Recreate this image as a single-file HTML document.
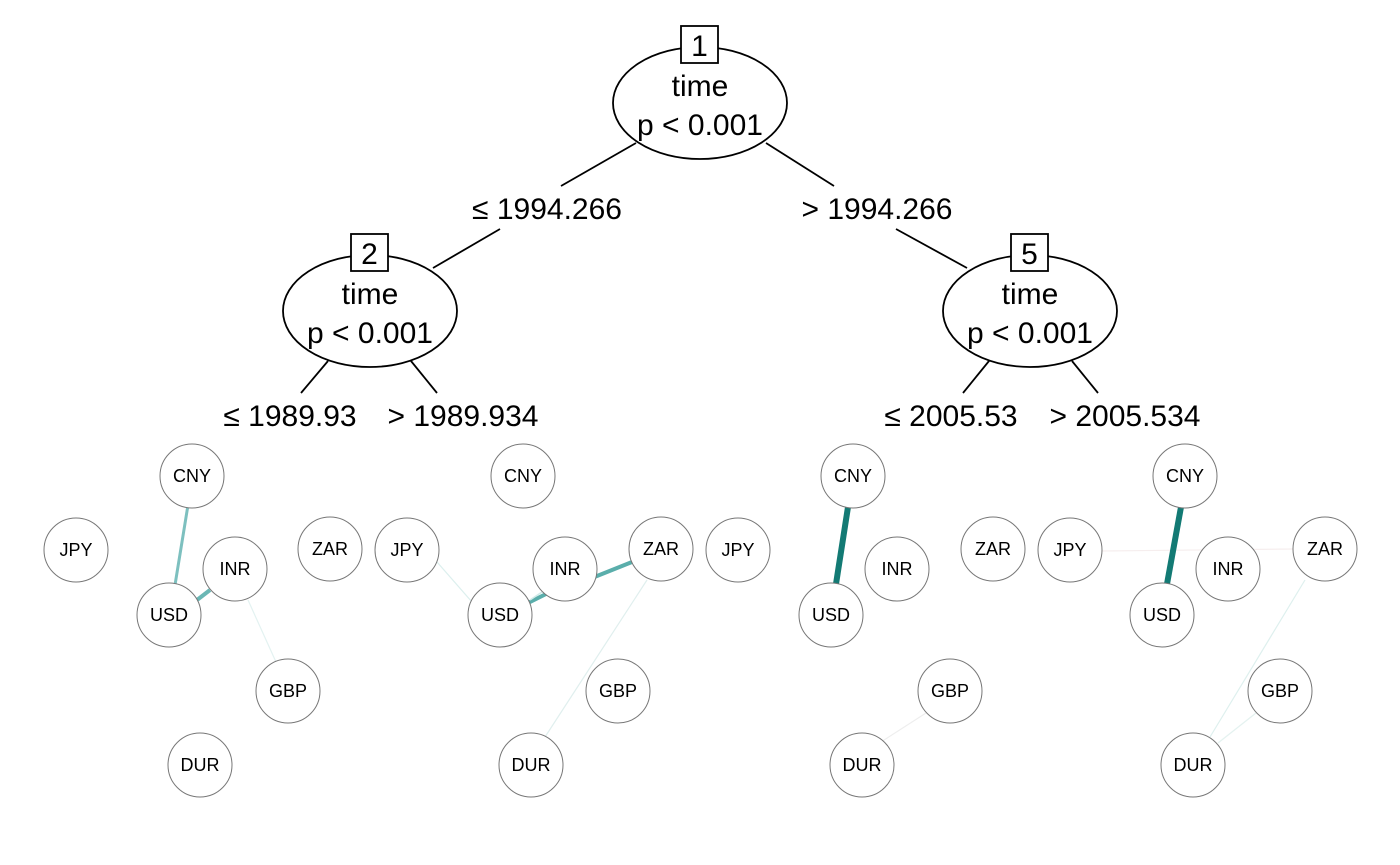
<!DOCTYPE html>
<html><head><meta charset="utf-8"><style>
html,body{margin:0;padding:0;background:#fff;}
svg{display:block;font-family:"Liberation Sans",Arial,sans-serif;}
.t{font-size:30px;text-anchor:middle;fill:#000;}
.n{font-size:18px;text-anchor:middle;fill:#000;}
circle{fill:#fff;stroke:#777;stroke-width:1;}
</style></head><body>
<svg width="1400" height="865" viewBox="0 0 1400 865">
<g stroke="#000" stroke-width="1.8" fill="none">
<line x1="636" y1="143" x2="561" y2="186"/>
<line x1="500" y1="229" x2="433" y2="268"/>
<line x1="766" y1="143" x2="834" y2="186"/>
<line x1="896" y1="229" x2="967" y2="268"/>
<line x1="328" y1="361" x2="301" y2="393"/>
<line x1="411" y1="361" x2="437" y2="393"/>
<line x1="989" y1="361" x2="963" y2="393"/>
<line x1="1072" y1="361" x2="1098" y2="393"/>
<ellipse cx="700" cy="103" rx="87" ry="56" fill="#fff"/>
<ellipse cx="370" cy="311" rx="87" ry="56" fill="#fff"/>
<ellipse cx="1030" cy="311" rx="87" ry="56" fill="#fff"/>
<rect x="681" y="26" width="37" height="37" fill="#fff"/>
<rect x="351" y="234" width="37" height="37" fill="#fff"/>
<rect x="1011" y="234" width="37" height="37" fill="#fff"/>
</g>
<text class="t" x="699.5" y="56">1</text>
<text class="t" x="369.5" y="264">2</text>
<text class="t" x="1029.5" y="264">5</text>
<text class="t" x="700" y="96">time</text>
<text class="t" x="700" y="135">p &lt; 0.001</text>
<text class="t" x="370" y="304">time</text>
<text class="t" x="370" y="343">p &lt; 0.001</text>
<text class="t" x="1030" y="304">time</text>
<text class="t" x="1030" y="343">p &lt; 0.001</text>
<text class="t" x="547" y="219">≤ 1994.266</text>
<text class="t" x="877" y="219">&gt; 1994.266</text>
<text class="t" x="290" y="426">≤ 1989.93</text>
<text class="t" x="463" y="426">&gt; 1989.934</text>
<text class="t" x="951" y="426">≤ 2005.53</text>
<text class="t" x="1125" y="426">&gt; 2005.534</text>

<g fill="none">
<line x1="188" y1="505" x2="175" y2="585" stroke="#7dc0bf" stroke-width="3"/>
<line x1="197" y1="600" x2="210" y2="590" stroke="#6ab7b5" stroke-width="4"/>
<line x1="248" y1="600" x2="276" y2="662" stroke="#e3f2f1" stroke-width="1.2"/>
<line x1="437" y1="562" x2="472" y2="602" stroke="#dcefee" stroke-width="1.2"/>
<line x1="528" y1="603" x2="552" y2="591" stroke="#5aaeab" stroke-width="4"/>
<line x1="592" y1="578" x2="632" y2="562" stroke="#5aaeab" stroke-width="4"/>
<line x1="530" y1="600" x2="545" y2="590" stroke="#d0eae8" stroke-width="1.5"/>
<line x1="647" y1="580" x2="545" y2="737" stroke="#e0efee" stroke-width="1.2"/>
<line x1="848" y1="507" x2="836" y2="584" stroke="#137a74" stroke-width="6"/>
<line x1="926" y1="713" x2="881" y2="742" stroke="#eeeeee" stroke-width="1.2"/>
<line x1="1102" y1="551" x2="1293" y2="549" stroke="#f6eeee" stroke-width="1.2"/>
<line x1="1181" y1="507" x2="1167" y2="584" stroke="#137a74" stroke-width="6"/>
<line x1="1305" y1="580" x2="1210" y2="737" stroke="#def0ee" stroke-width="1.2"/>
<line x1="1256" y1="713" x2="1218" y2="743" stroke="#e4f2f0" stroke-width="1.2"/>
</g>

<circle cx="192" cy="476" r="32"/><text class="n" x="192" y="482">CNY</text>
<circle cx="76" cy="550" r="32"/><text class="n" x="76" y="556">JPY</text>
<circle cx="169" cy="615" r="32"/><text class="n" x="169" y="621">USD</text>
<circle cx="235" cy="569" r="32"/><text class="n" x="235" y="575">INR</text>
<circle cx="330" cy="549" r="32"/><text class="n" x="330" y="555">ZAR</text>
<circle cx="288" cy="691" r="32"/><text class="n" x="288" y="697">GBP</text>
<circle cx="200" cy="765" r="32"/><text class="n" x="200" y="771">DUR</text>
<circle cx="523" cy="476" r="32"/><text class="n" x="523" y="482">CNY</text>
<circle cx="407" cy="550" r="32"/><text class="n" x="407" y="556">JPY</text>
<circle cx="500" cy="615" r="32"/><text class="n" x="500" y="621">USD</text>
<circle cx="565" cy="569" r="32"/><text class="n" x="565" y="575">INR</text>
<circle cx="661" cy="549" r="32"/><text class="n" x="661" y="555">ZAR</text>
<circle cx="618" cy="691" r="32"/><text class="n" x="618" y="697">GBP</text>
<circle cx="531" cy="765" r="32"/><text class="n" x="531" y="771">DUR</text>
<circle cx="738" cy="550" r="32"/><text class="n" x="738" y="556">JPY</text>
<circle cx="853" cy="476" r="32"/><text class="n" x="853" y="482">CNY</text>
<circle cx="831" cy="615" r="32"/><text class="n" x="831" y="621">USD</text>
<circle cx="897" cy="569" r="32"/><text class="n" x="897" y="575">INR</text>
<circle cx="993" cy="549" r="32"/><text class="n" x="993" y="555">ZAR</text>
<circle cx="950" cy="691" r="32"/><text class="n" x="950" y="697">GBP</text>
<circle cx="862" cy="765" r="32"/><text class="n" x="862" y="771">DUR</text>
<circle cx="1070" cy="550" r="32"/><text class="n" x="1070" y="556">JPY</text>
<circle cx="1185" cy="476" r="32"/><text class="n" x="1185" y="482">CNY</text>
<circle cx="1162" cy="615" r="32"/><text class="n" x="1162" y="621">USD</text>
<circle cx="1228" cy="569" r="32"/><text class="n" x="1228" y="575">INR</text>
<circle cx="1325" cy="549" r="32"/><text class="n" x="1325" y="555">ZAR</text>
<circle cx="1280" cy="691" r="32"/><text class="n" x="1280" y="697">GBP</text>
<circle cx="1193" cy="765" r="32"/><text class="n" x="1193" y="771">DUR</text>
</svg>
</body></html>
